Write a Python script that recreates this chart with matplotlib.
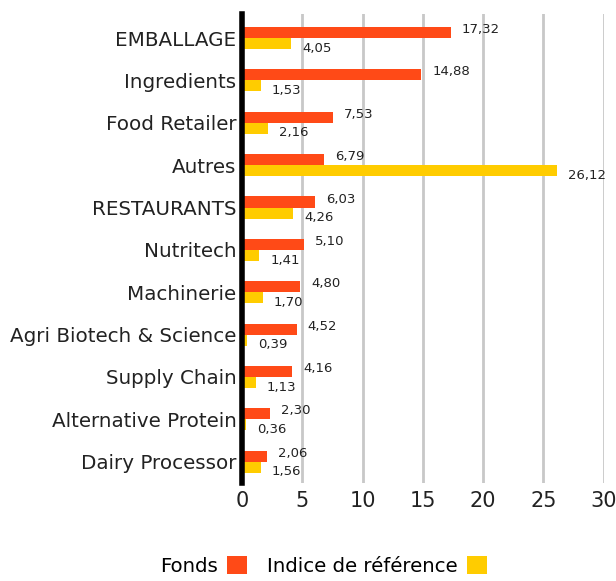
import matplotlib
matplotlib.use('Agg')
import matplotlib.pyplot as plt
import numpy as np

# categories, top to bottom
categories = ['EMBALLAGE', 'Ingredients', 'Food Retailer', 'Autres', 'RESTAURANTS',
              'Nutritech', 'Machinerie', 'Agri Biotech & Science', 'Supply Chain',
              'Alternative Protein', 'Dairy Processor']
fonds = [17.32, 14.88, 7.53, 6.79, 6.03, 5.10, 4.80, 4.52, 4.16, 2.30, 2.06]
indice = [4.05, 1.53, 2.16, 26.12, 4.26, 1.41, 1.70, 0.39, 1.13, 0.36, 1.56]
xticks = [0, 5, 10, 15, 20, 25, 30]

orange = '#FF4A17'
yellow = '#FFCC00'

plt.rcParams['font.family'] = ['DejaVu Sans']

fig = plt.figure(figsize=(6.16, 5.81), dpi=100)
ax = fig.add_axes([0.393, 0.169, 0.587, 0.807])

y = np.arange(len(categories))
h = 0.26
ax.barh(y - h / 2, fonds, height=h, color=orange, label='Fonds', zorder=3)
ax.barh(y + h / 2, indice, height=h, color=yellow, label='Indice de référence', zorder=3)

fmt = lambda v: f'{v:.2f}'.replace('.', ',')
for i in range(len(categories)):
    ax.annotate(fmt(fonds[i]), (fonds[i], y[i] - 0.2), xytext=(8, 0),
                textcoords='offset points', va='center', ha='left', fontsize=9.5, color='#222222')
    ax.annotate(fmt(indice[i]), (indice[i], y[i] + 0.24), xytext=(8, 0),
                textcoords='offset points', va='center', ha='left', fontsize=9.5, color='#222222')

ax.set_xlim(0, 30)
ax.set_ylim(10.5, -0.57)
ax.set_xticks(xticks)
ax.set_xticklabels([str(t) for t in xticks], fontsize=15, color='#222222')
ax.set_yticks(y)
ax.set_yticklabels(categories, fontsize=14.3, color='#222222')
ax.tick_params(length=0, pad=4)
ax.tick_params(axis='x', pad=6)
ax.grid(axis='x', color='#c8c8c8', linewidth=2, zorder=0)
for s in ['top', 'right', 'bottom']:
    ax.spines[s].set_visible(False)
ax.spines['left'].set_linewidth(4)
ax.spines['left'].set_color('black')
ax.spines['left'].set_zorder(4)

fig.legend(loc='center', bbox_to_anchor=(0.525, 0.026), ncol=2, frameon=False,
           markerfirst=False, fontsize=14.2, handlelength=1.0, handleheight=1.0,
           columnspacing=1.0, handletextpad=0.5)

fig.savefig('out.png', dpi=100)
